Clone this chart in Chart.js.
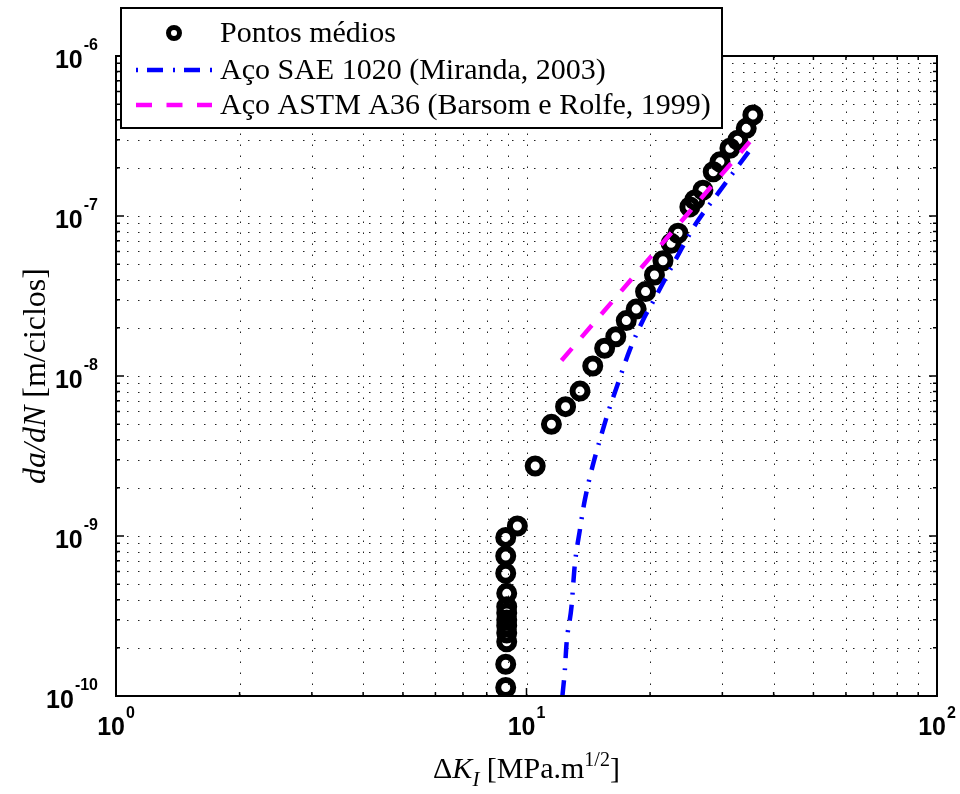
<!DOCTYPE html>
<html>
<head>
<meta charset="utf-8">
<script src="https://cdn.jsdelivr.net/npm/chart.js@4.4.1/dist/chart.umd.min.js"></script>
<style>
  html, body { margin: 0; padding: 0; background: #fff; }
</style>
</head>
<body>
<canvas id="grafico" width="960" height="794"></canvas>
<script>
// pontos medios (ensaio)
const dkPontos = [8.9, 8.9, 8.95, 8.95, 8.95, 8.95, 8.95, 8.95, 8.95, 8.9, 8.9, 8.9,
  9.5, 10.5, 11.5, 12.45, 13.5, 14.5, 15.5, 16.5, 17.5, 18.5, 19.5, 20.5, 21.5,
  22.5, 23.4, 25.0, 25.7, 26.9, 28.5, 29.6, 31.3, 32.7, 34.3, 35.6];
const dadnPontos = [1.13e-10, 1.58e-10, 2.18e-10, 2.48e-10, 2.75e-10, 2.99e-10, 3.3e-10, 3.61e-10, 4.38e-10, 5.85e-10, 7.5e-10, 9.8e-10,
  1.155e-9, 2.74e-9, 4.99e-9, 6.43e-9, 8.05e-9, 1.155e-8, 1.49e-8, 1.76e-8, 2.22e-8, 2.62e-8, 3.37e-8, 4.28e-8, 5.25e-8,
  6.75e-8, 7.8e-8, 1.14e-7, 1.26e-7, 1.45e-7, 1.89e-7, 2.18e-7, 2.65e-7, 2.98e-7, 3.53e-7, 4.28e-7];

// Aco SAE 1020 (Miranda, 2003)
const dkSAE = [12.23, 12.4, 12.52, 12.87, 13.11, 13.49, 13.87, 15.51, 16.71, 17.84, 19.23, 20.33, 23.4, 25.9, 29.3, 35.0];
const dadnSAE = [1e-10, 1.45e-10, 2.14e-10, 3.61e-10, 6.59e-10, 1.09e-9, 1.68e-9, 5.06e-9, 9.0e-9, 1.45e-8, 2.24e-8, 2.91e-8, 5.7e-8, 9.0e-8, 1.39e-7, 2.58e-7];

// Aco ASTM A36 (Barsom e Rolfe, 1999)
const dkA36 = [12.17, 34.98];
const dadnA36 = [1.25e-8, 2.91e-7];

const expX = [0, 1, 2];
const expY = [-10, -9, -8, -7, -6];

const legendas = ['Pontos médios', 'Aço SAE 1020 (Miranda, 2003)', 'Aço ASTM A36 (Barsom e Rolfe, 1999)'];

const toXY = (xs, ys) => xs.map((v, i) => ({x: v, y: ys[i]}));

const fonteNum = 'bold 25px "Liberation Sans", Arial, sans-serif';
const fonteExp = 'bold 16px "Liberation Sans", Arial, sans-serif';
const serif = '"Liberation Serif", "Times New Roman", serif';

// escreve pedaços de texto em sequencia: [texto, fonte, deslocamento vertical]
function larguraPedacos(ctx, pedacos) {
    let w = 0;
    pedacos.forEach(p => { ctx.font = p[1]; w += ctx.measureText(p[0]).width; });
    return w;
}
function escrevePedacos(ctx, pedacos, x, y) {
    pedacos.forEach(p => {
        ctx.font = p[1];
        ctx.fillText(p[0], x, y + (p[2] || 0));
        x += ctx.measureText(p[0]).width;
    });
}

const eixosPlugin = {
    id: 'eixos',
    beforeDatasetsDraw(chart) {
        const {ctx, chartArea: a, scales: {x, y}} = chart;
        ctx.save();
        ctx.strokeStyle = '#222';
        ctx.lineWidth = 1;
        ctx.setLineDash([1.5, 9.5]);
        expX.forEach(e => {
            for (let k = 1; k <= 9; k++) {
                const v = k * Math.pow(10, e);
                if (v > x.max) break;
                const px = Math.round(x.getPixelForValue(v)) + 0.5;
                if (px <= a.left + 1 || px >= a.right - 1) continue;
                ctx.beginPath(); ctx.moveTo(px, a.bottom); ctx.lineTo(px, a.top); ctx.stroke();
            }
        });
        expY.forEach(e => {
            for (let k = 1; k <= 9; k++) {
                const v = k * Math.pow(10, e);
                if (v > y.max * 1.0001) break;
                const py = Math.round(y.getPixelForValue(v)) + 0.5;
                if (py <= a.top + 1 || py >= a.bottom - 1) continue;
                ctx.beginPath(); ctx.moveTo(a.left, py); ctx.lineTo(a.right, py); ctx.stroke();
            }
        });
        ctx.restore();
    },
    afterDatasetsDraw(chart) {
        const {ctx, chartArea: a, scales: {x, y}} = chart;
        ctx.save();
        ctx.setLineDash([]);
        ctx.strokeStyle = '#000';
        ctx.fillStyle = '#000';

        // marcas (para dentro, nos quatro lados)
        ctx.lineWidth = 1.5;
        expX.forEach(e => {
            for (let k = 1; k <= 9; k++) {
                const v = k * Math.pow(10, e);
                if (v > x.max) break;
                const px = x.getPixelForValue(v);
                const len = k === 1 ? 8 : 4;
                ctx.beginPath();
                ctx.moveTo(px, a.bottom); ctx.lineTo(px, a.bottom - len);
                ctx.moveTo(px, a.top); ctx.lineTo(px, a.top + len);
                ctx.stroke();
            }
        });
        expY.forEach(e => {
            for (let k = 1; k <= 9; k++) {
                const v = k * Math.pow(10, e);
                if (v > y.max * 1.0001) break;
                const py = y.getPixelForValue(v);
                const len = k === 1 ? 8 : 4;
                ctx.beginPath();
                ctx.moveTo(a.left, py); ctx.lineTo(a.left + len, py);
                ctx.moveTo(a.right, py); ctx.lineTo(a.right - len, py);
                ctx.stroke();
            }
        });

        // caixa
        ctx.lineWidth = 2;
        ctx.strokeRect(a.left, a.top, a.right - a.left, a.bottom - a.top);

        // rotulos do eixo y
        ctx.textBaseline = 'alphabetic';
        ctx.textAlign = 'left';
        expY.forEach(e => {
            const py = y.getPixelForValue(Math.pow(10, e));
            ctx.font = fonteExp;
            const we = ctx.measureText(String(e)).width;
            ctx.font = fonteNum;
            const wb = ctx.measureText('10').width;
            const xr = a.left - 18;
            ctx.fillText('10', xr - we - wb - 1, py + 12);
            ctx.font = fonteExp;
            ctx.fillText(String(e), xr - we, py - 6);
        });

        // rotulos do eixo x
        expX.forEach(e => {
            const px = x.getPixelForValue(Math.pow(10, e));
            ctx.font = fonteExp;
            const we = ctx.measureText(String(e)).width;
            ctx.font = fonteNum;
            const wb = ctx.measureText('10').width;
            const x0 = px - (wb + we + 1) / 2;
            ctx.fillText('10', x0, a.bottom + 39);
            ctx.font = fonteExp;
            ctx.fillText(String(e), x0 + wb + 1, a.bottom + 22);
        });

        // titulo do eixo x
        const tx = [
            ['\u0394', '30px ' + serif],
            ['K', 'italic 30px ' + serif],
            ['I', 'italic 21px ' + serif, 8],
            [' [MPa.m', '30px ' + serif],
            ['1/2', '20px ' + serif, -12],
            [']', '30px ' + serif]
        ];
        const wtx = larguraPedacos(ctx, tx);
        escrevePedacos(ctx, tx, (a.left + a.right) / 2 - wtx / 2, 778);

        // titulo do eixo y
        const ty = [
            ['da/dN', 'italic 32px ' + serif],
            [' [m/ciclos]', '32px ' + serif]
        ];
        const wty = larguraPedacos(ctx, ty);
        ctx.save();
        ctx.translate(45, (a.top + a.bottom) / 2);
        ctx.rotate(-Math.PI / 2);
        escrevePedacos(ctx, ty, -wty / 2, 0);
        ctx.restore();

        // legenda
        const lx = 121, ly = 8, lw = 601, lh = 120;
        ctx.fillStyle = '#fff';
        ctx.fillRect(lx, ly, lw, lh);
        ctx.lineWidth = 2;
        ctx.strokeStyle = '#000';
        ctx.strokeRect(lx, ly, lw, lh);

        const ds = chart.data.datasets;
        const linhas = [33, 70, 105];
        ds.forEach((d, i) => {
            const cy = linhas[i];
            ctx.save();
            if (i === 0) {
                ctx.beginPath();
                ctx.lineWidth = 5;
                ctx.strokeStyle = d.pointBorderColor;
                ctx.arc(174, cy, 5.5, 0, Math.PI * 2);
                ctx.stroke();
            } else {
                ctx.beginPath();
                ctx.lineWidth = d.borderWidth;
                ctx.strokeStyle = d.borderColor;
                ctx.setLineDash(i === 1 ? [2, 9, 16, 10] : [16, 14.5]);
                ctx.moveTo(136, cy); ctx.lineTo(212, cy);
                ctx.stroke();
            }
            ctx.restore();
            ctx.fillStyle = '#000';
            ctx.font = '30px ' + serif;
            ctx.textBaseline = 'middle';
            ctx.fillText(d.label, 220, cy + 1);
        });
        ctx.restore();
    }
};

new Chart(document.getElementById('grafico').getContext('2d'), {
    type: 'line',
    data: {
        datasets: [
            {
                label: legendas[0],
                data: toXY(dkPontos, dadnPontos),
                showLine: false,
                pointStyle: 'circle',
                pointRadius: 7.5,
                pointBorderWidth: 6,
                pointBorderColor: '#000',
                pointBackgroundColor: 'rgba(0,0,0,0)',
                order: 3
            },
            {
                label: legendas[1],
                data: toXY(dkSAE, dadnSAE),
                borderColor: '#0000ff',
                borderWidth: 4.5,
                borderDash: [16, 10, 2, 10],
                cubicInterpolationMode: 'monotone',
                pointRadius: 0,
                fill: false,
                order: 2
            },
            {
                label: legendas[2],
                data: toXY(dkA36, dadnA36),
                borderColor: '#ff00ff',
                borderWidth: 4.5,
                borderDash: [16, 14.5],
                pointRadius: 0,
                fill: false,
                order: 1
            }
        ]
    },
    options: {
        responsive: false,
        animation: false,
        layout: { padding: { left: 116, top: 56, right: 23, bottom: 98 } },
        scales: {
            x: { type: 'logarithmic', min: 1, max: 100, display: false },
            y: { type: 'logarithmic', min: 1e-10, max: 1e-6, display: false }
        },
        plugins: {
            legend: { display: false },
            tooltip: { enabled: false },
            title: { display: false }
        }
    },
    plugins: [eixosPlugin]
});
</script>
</body>
</html>
